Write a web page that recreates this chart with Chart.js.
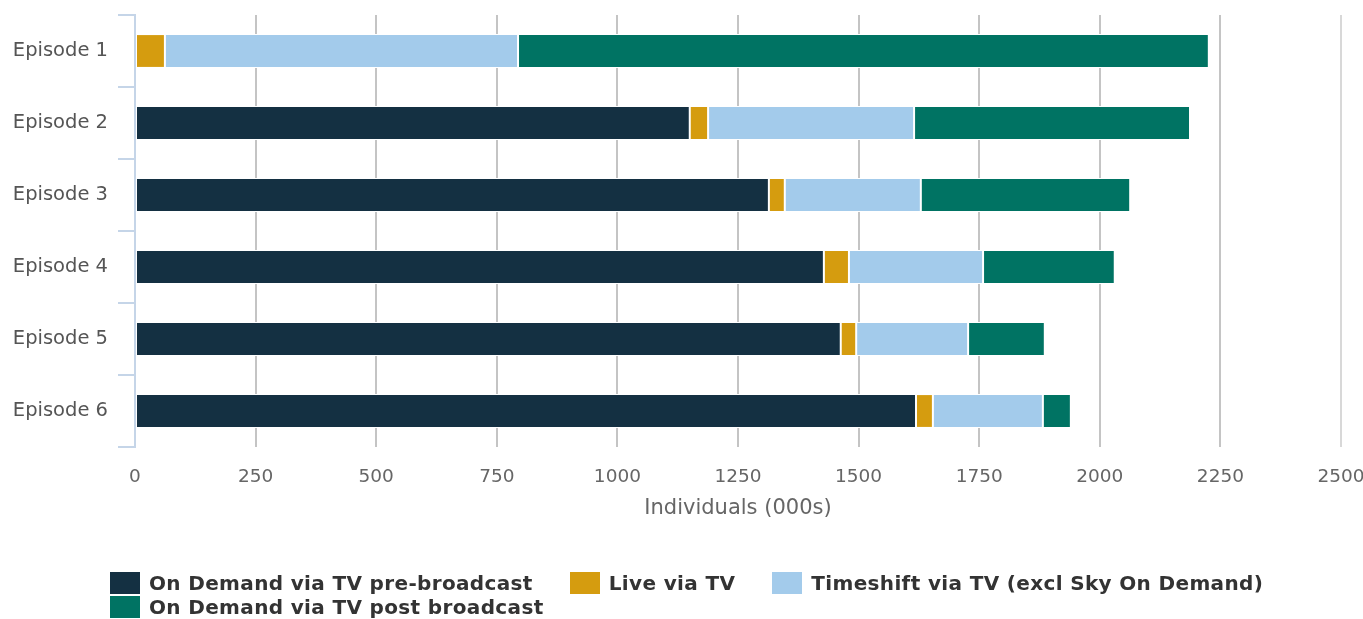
<!DOCTYPE html>
<html>
<head>
<meta charset="utf-8">
<script src="https://cdn.jsdelivr.net/npm/chart.js@4"></script>
<style>
  html, body { margin: 0; padding: 0; background: #fff; }
  #wrap { position: relative; width: 1363px; height: 619px; }
  #legend { position: absolute; left: 110px; top: 571px; width: 1200px; display: flex; flex-wrap: wrap;
    font-family: "DejaVu Sans", sans-serif; font-weight: bold; font-size: 20px; letter-spacing: 0.35px; color: #333; }
  .item { display: flex; align-items: center; height: 24px; margin-right: 37px; white-space: nowrap; }
  .box { width: 30px; height: 22px; margin-right: 9px; }
</style>
</head>
<body>
<div id="wrap">
  <canvas id="chart" width="1363" height="619"></canvas>
  <div id="legend"></div>
</div>
<script>
// Dados
const episodes = ['Episode 1', 'Episode 2', 'Episode 3', 'Episode 4', 'Episode 5', 'Episode 6'];
const preBroadcast = [null, 1150, 1314, 1428, 1463, 1619];
const liveTV = [62, 38, 33, 52, 32, 35];
const timeshift = [732, 427, 282, 278, 232, 228];
const postBroadcast = [1432, 572, 434, 273, 159, 58];
const xTicks = [0, 250, 500, 750, 1000, 1250, 1500, 1750, 2000, 2250, 2500];

const series = [
  { label: 'On Demand via TV pre-broadcast', data: preBroadcast, color: '#143042' },
  { label: 'Live via TV', data: liveTV, color: '#d59c0f' },
  { label: 'Timeshift via TV (excl Sky On Demand)', data: timeshift, color: '#a3cbeb' },
  { label: 'On Demand via TV post broadcast', data: postBroadcast, color: '#007363' }
];

Chart.defaults.font.family = '"DejaVu Sans", sans-serif';

new Chart(document.getElementById('chart').getContext('2d'), {
  type: 'bar',
  data: {
    labels: episodes,
    datasets: series.map(s => ({
      label: s.label,
      data: s.data,
      backgroundColor: s.color,
      borderColor: '#ffffff',
      borderWidth: 1,
      borderSkipped: false,
      barPercentage: 1,
      categoryPercentage: 0.47
    }))
  },
  options: {
    indexAxis: 'y',
    responsive: false,
    animation: false,
    layout: { padding: { top: 15, right: 22, bottom: 94, left: 0 } },
    scales: {
      x: {
        stacked: true,
        min: 0,
        max: 2500,
        afterBuildTicks: s => { s.ticks = xTicks.map(v => ({ value: v })); },
        afterFit: s => { s.height = 78; s.paddingLeft = 0; s.paddingRight = 0; },
        grid: {
          color: ctx => ctx.tick && ctx.tick.value === 2500 ? '#d8d8d8' : '#c4c4c4',
          lineWidth: 2,
          drawTicks: false
        },
        border: { display: false },
        ticks: { color: '#666', font: { size: 18.5 }, padding: 19, callback: v => String(v) },
        title: { display: true, text: 'Individuals (000s)', color: '#666', font: { size: 21 }, padding: { top: 6 } }
      },
      y: {
        stacked: true,
        afterFit: s => { s.width = 135; s.paddingTop = 0; s.paddingBottom = 0; },
        grid: { offset: true, drawOnChartArea: false, color: '#c5d5e8', lineWidth: 2, tickLength: 17 },
        border: { color: '#c5d5e8', width: 2 },
        ticks: { color: '#555', font: { size: 19.5 }, padding: 10 }
      }
    },
    plugins: {
      legend: { display: false },
      tooltip: { enabled: false }
    }
  }
});

// Legenda
const legendEl = document.getElementById('legend');
series.forEach(s => {
  const item = document.createElement('div');
  item.className = 'item';
  item.innerHTML = `<span class="box" style="background:${s.color}"></span><span>${s.label}</span>`;
  legendEl.appendChild(item);
});
</script>
</body>
</html>
